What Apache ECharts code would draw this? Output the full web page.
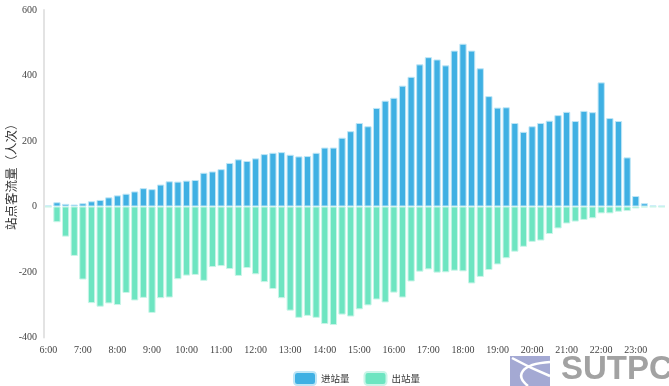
<!DOCTYPE html>
<html>
<head>
<meta charset="utf-8">
<script src="https://cdn.jsdelivr.net/npm/echarts@6/dist/echarts.min.js"></script>
<style>html,body{margin:0;padding:0;background:#fff;}#c{width:669px;height:386px;}</style>
</head>
<body>
<div id="c"></div>
<script>
// categories: 15-minute slots from 6:00 to 23:45
const categories = [];
for (let h = 6; h < 24; h++) { for (const m of ['00','15','30','45']) categories.push(h + ':' + m); }

const inflow = [3,13,8,6,10,16,20,28,34,39,46,56,53,67,77,76,79,81,103,107,114,133,144,139,147,160,164,166,158,153,154,164,180,180,210,230,255,245,301,323,332,369,396,434,456,449,431,476,497,476,422,337,302,303,255,228,245,255,262,279,289,261,292,288,379,270,261,150,32,10,3,2];
const outflow = [-2,-48,-92,-151,-223,-295,-306,-296,-301,-264,-287,-279,-325,-280,-278,-222,-211,-209,-227,-185,-182,-191,-212,-188,-207,-231,-252,-280,-318,-340,-334,-340,-359,-362,-330,-336,-314,-302,-284,-293,-263,-278,-229,-199,-192,-202,-201,-196,-198,-235,-215,-194,-177,-158,-138,-123,-108,-104,-84,-67,-52,-46,-41,-36,-21,-21,-16,-14,-6,-3,-2,-2];
const seriesNames = ['进站量', '出站量'];
const yTicks = [-400, -200, 0, 200, 400, 600];

const chart = echarts.init(document.getElementById('c'), null, {renderer: 'canvas'});
chart.setOption({
  animation: false,
  grid: {left: 44, right: 3, top: 10, bottom: 48.5, containLabel: false, outerBoundsMode: 'none'},
  legend: {
    data: seriesNames, left: 293, top: 371, padding: 0,
    itemWidth: 22, itemHeight: 13, itemGap: 14, icon: 'roundRect',
    textStyle: {fontSize: 9.5, color: '#333', fontFamily: 'Noto Sans CJK SC'}
  },
  xAxis: {
    type: 'category', data: categories,
    axisLine: {show: false}, axisTick: {show: false},
    axisLabel: {interval: 3, margin: 8, fontSize: 10, color: '#444', fontFamily: 'Liberation Serif'}
  },
  yAxis: {
    type: 'value', min: yTicks[0], max: yTicks[yTicks.length-1], interval: 200,
    name: '站点客流量（人次）', nameLocation: 'middle', nameGap: 26, nameMoveOverlap: false,
    nameTextStyle: {fontSize: 12.5, color: '#333', fontFamily: 'Noto Sans CJK SC'},
    axisLine: {show: true, lineStyle: {color: '#e3e3e3', width: 2}},
    axisTick: {show: false}, splitLine: {show: false},
    axisLabel: {margin: 7, fontSize: 10, color: '#444', fontFamily: 'Liberation Serif'}
  },
  series: [
    {name: seriesNames[0], type: 'bar', data: inflow, barGap: '-100%', barCategoryGap: '16%',
     itemStyle: {color: '#3fb0e3', borderColor: '#bfe6f6', borderWidth: 1}},
    {name: seriesNames[1], type: 'bar', data: outflow, barGap: '-100%', barCategoryGap: '16%',
     itemStyle: {color: '#6de5c1', borderColor: '#c9f5e8', borderWidth: 1}}
  ],
  graphic: [
    {type: 'rect', left: 510, top: 356, shape: {width: 40, height: 30}, style: {fill: '#a4a9d3'}, silent: true},
    {type: 'bezierCurve', shape: {x1: 512, y1: 358, cpx1: 530, cpy1: 368, x2: 550, y2: 376, cpx2: 540, cpy2: 372}, style: {stroke: '#fff', lineWidth: 2.5, fill: null}, silent: true},
    {type: 'bezierCurve', shape: {x1: 550, y1: 362, cpx1: 520, cpy1: 364, x2: 528, y2: 386, cpx2: 515, cpy2: 376}, style: {stroke: '#fff', lineWidth: 2.5, fill: null}, silent: true},
    {type: 'text', left: 561, top: 353, style: {text: 'SUTPC', fontSize: 33, fontWeight: 'bold', fill: '#a2a2a2', fontFamily: 'Liberation Sans'}, silent: true}
  ]
});
</script>
</body>
</html>
